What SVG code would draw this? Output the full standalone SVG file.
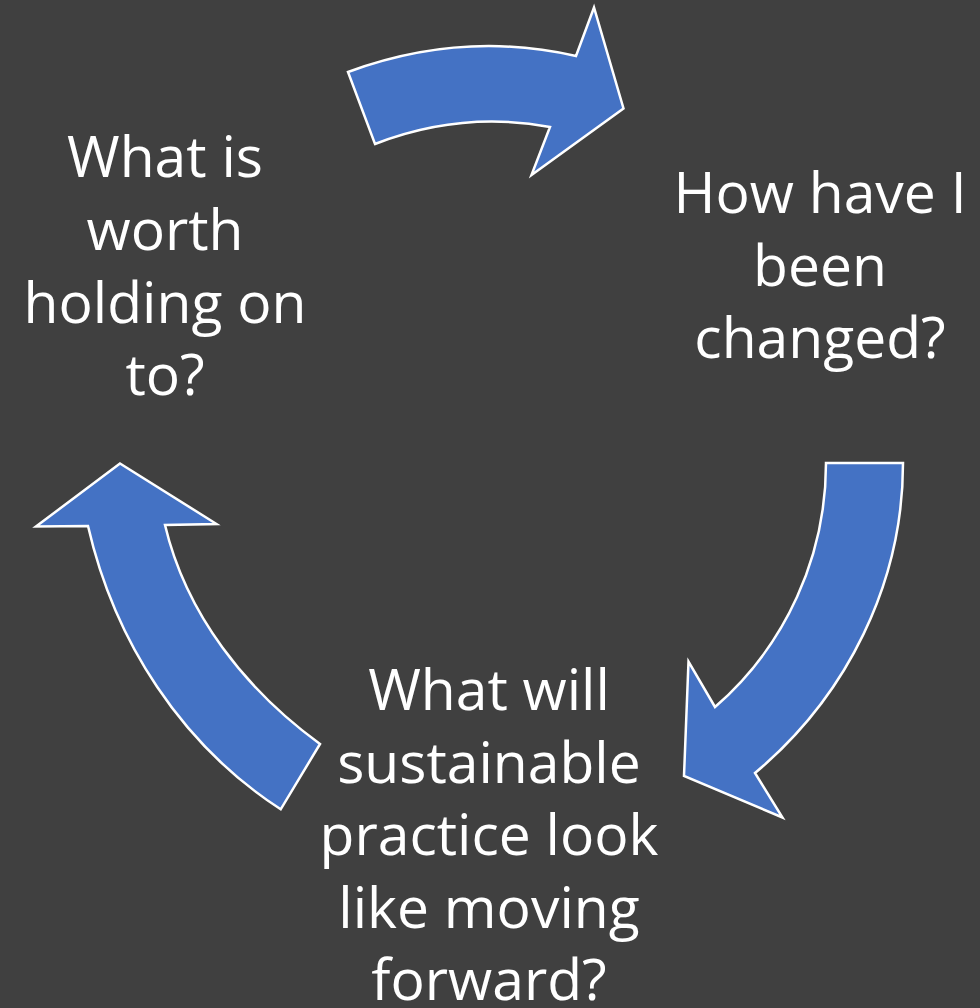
<svg xmlns="http://www.w3.org/2000/svg" width="980" height="1008" viewBox="0 0 980 1008">
<style>
.arrow{fill:#4472C4;stroke:#FFFFFF;stroke-width:2.5;stroke-linejoin:miter}
.lbl{fill:#FFFFFF;font-family:"Open Sans","Liberation Sans",sans-serif;font-size:57px;text-anchor:middle}
</style>
<rect x="0" y="0" width="980" height="1008" fill="#404040"/>
<g id="connectors">
<path id="arrow-top" class="arrow" d="M348,72 Q462,30 576,56 L594,7.5 L623.5,108.5 L531.5,175 L550,127 Q461.5,110.5 375,144 Z"/>
<path id="arrow-right" class="arrow" d="M826,463 L903,463 C903,583 847,696 755,773 L782.5,817.5 L684,776 L688.5,661.5 L715,707 C785.6,645.7 826,556.5 826,463 Z"/>
<path id="arrow-left" class="arrow" d="M120,463.5 L216.5,524 L165,525 C186,614 245.5,689.7 320,744 L280.7,809.3 C181.4,744.9 114.5,641.4 88,526 L36,526.5 Z"/>
</g>
<g id="node-holding">
<text class="lbl" x="165" y="177">What is</text>
<text class="lbl" x="165" y="250">worth</text>
<text class="lbl" x="165" y="323">holding on</text>
<text class="lbl" x="165" y="395">to?</text>
</g>
<g id="node-changed">
<text class="lbl" x="820" y="213">How have I</text>
<text class="lbl" x="820" y="286">been</text>
<text class="lbl" x="820" y="358">changed?</text>
</g>
<g id="node-sustainable">
<text class="lbl" x="489" y="710">What will</text>
<text class="lbl" x="489" y="783">sustainable</text>
<text class="lbl" x="489" y="855">practice look</text>
<text class="lbl" x="489" y="928">like moving</text>
<text class="lbl" x="489" y="1000">forward?</text>
</g>
</svg>
